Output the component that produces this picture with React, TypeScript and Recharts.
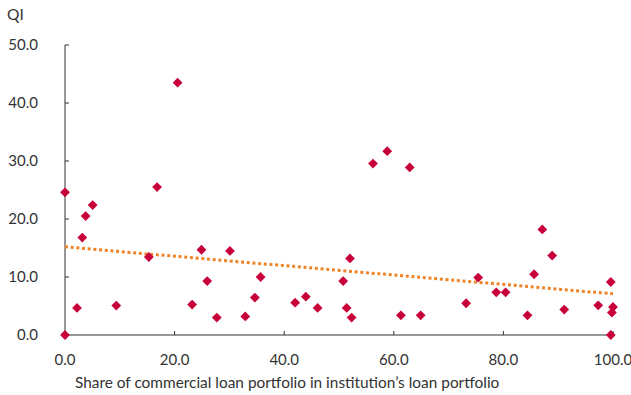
import React from 'react';
import { ComposedChart, Scatter, XAxis, YAxis } from 'recharts';

const shareValues = [0, 0, 5.05, 3.77, 3.16, 2.19, 9.36, 15.3, 16.8, 20.55, 23.2, 24.9, 25.95, 27.7, 30.1, 32.9, 34.65, 35.7, 42.0, 43.95, 46.1, 50.76, 52.0, 51.4, 52.3, 56.2, 58.8, 62.9, 61.3, 64.9, 73.2, 75.4, 78.7, 80.4, 84.4, 85.6, 87.1, 88.9, 91.1, 97.3, 99.6, 100, 99.8, 99.6];
const qiValues = [24.6, 0, 22.4, 20.5, 16.8, 4.66, 5.07, 13.45, 25.5, 43.5, 5.24, 14.7, 9.3, 3.0, 14.5, 3.2, 6.45, 10.0, 5.58, 6.6, 4.66, 9.3, 13.2, 4.66, 3.0, 29.55, 31.7, 28.9, 3.4, 3.4, 5.47, 9.9, 7.36, 7.36, 3.4, 10.47, 18.2, 13.7, 4.38, 5.12, 9.14, 4.83, 3.86, 0];

const trendShare = [0, 100];
const trendQi = [15.2, 7.1];

const xTicks = [0, 20, 40, 60, 80, 100];
const yTicks = [0, 10, 20, 30, 40, 50];

const points = shareValues.map((x, i) => ({ x, y: qiValues[i] }));
const trend = trendShare.map((x, i) => ({ x, y: trendQi[i] }));

const FONT = 'Lato, "Open Sans", sans-serif';
const TEXT = '#333333';

const Diamond = (props: any) => {
  const { cx, cy } = props;
  if (cx == null || cy == null) return null;
  const r = 4.9;
  return (
    <polygon
      points={`${cx},${cy - r} ${cx + r},${cy} ${cx},${cy + r} ${cx - r},${cy}`}
      fill="#c8003a"
    />
  );
};

const NoShape = () => null;

export default function App() {
  return (
    <div style={{ position: 'absolute', left: 0, top: 0, width: 631, height: 395, background: '#fff' }}>
      <ComposedChart
        width={631}
        height={395}
        margin={{ top: 45, right: 18, bottom: 20, left: 5 }}
      >
        <XAxis
          type="number"
          dataKey="x"
          domain={[0, 100]}
          ticks={xTicks}
          tickFormatter={(v: number) => v.toFixed(1)}
          height={40}
          tickSize={-4}
          tickMargin={23}
          axisLine={{ stroke: TEXT, strokeWidth: 1 }}
          tickLine={{ stroke: TEXT, strokeWidth: 1 }}
          tick={{ fill: TEXT, fontSize: 15, fontFamily: FONT }}
        />
        <YAxis
          type="number"
          dataKey="y"
          domain={[0, 50]}
          ticks={yTicks}
          tickFormatter={(v: number) => v.toFixed(1)}
          width={60}
          tickSize={-4}
          tickMargin={31}
          axisLine={{ stroke: TEXT, strokeWidth: 1 }}
          tickLine={{ stroke: TEXT, strokeWidth: 1 }}
          tick={{ fill: TEXT, fontSize: 15, fontFamily: FONT }}
        />
        <Scatter
          data={trend}
          shape={NoShape}
          line={{ stroke: '#ef8428', strokeWidth: 3, strokeDasharray: '3 2.7' }}
          isAnimationActive={false}
        />
        <Scatter data={points} shape={Diamond} isAnimationActive={false} />
      </ComposedChart>
      <div
        style={{
          position: 'absolute',
          left: 7,
          top: 4,
          fontFamily: FONT,
          fontSize: 15.5,
          color: TEXT,
          lineHeight: '20px',
        }}
      >
        QI
      </div>
      <div
        style={{
          position: 'absolute',
          left: 75,
          top: 372,
          fontFamily: FONT,
          fontSize: 15.4,
          color: TEXT,
          lineHeight: '20px',
          whiteSpace: 'nowrap',
        }}
      >
        Share of commercial loan portfolio in institution’s loan portfolio
      </div>
    </div>
  );
}
